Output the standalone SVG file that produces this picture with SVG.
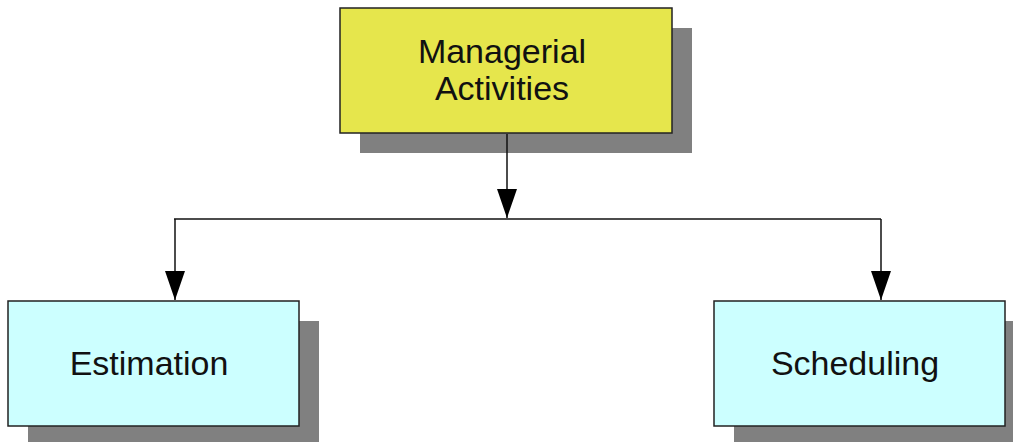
<svg xmlns="http://www.w3.org/2000/svg" width="1013" height="442" viewBox="0 0 1013 442">
  <style>
    .shadow { fill: #808080; }
    .box { stroke: #222; stroke-width: 1.5; }
    .top { fill: #E6E64C; }
    .leaf { fill: #CCFFFF; }
    .label { font-family: "Liberation Sans", Arial, sans-serif; font-size: 34px; fill: #111; text-anchor: middle; }
    .wire { fill: none; stroke: #111; stroke-width: 1.5; }
  </style>
  <defs>
    <marker id="arrow" markerWidth="29" markerHeight="20" refX="29" refY="10" orient="auto" markerUnits="userSpaceOnUse" viewBox="0 0 29 20">
      <path d="M0,0 L29,10 L0,20 Z" fill="#000"/>
    </marker>
  </defs>
  <rect width="1013" height="442" fill="#fff"/>

  <g id="managerial-activities">
    <rect class="shadow" x="360" y="28" width="332" height="125"/>
    <rect class="box top" x="340" y="8" width="332" height="125"/>
    <text class="label" x="502" y="63">Managerial</text>
    <text class="label" x="502" y="100">Activities</text>
  </g>

  <g id="estimation">
    <rect class="shadow" x="28" y="321" width="291" height="125"/>
    <rect class="box leaf" x="8" y="301" width="291" height="125"/>
    <text class="label" x="149" y="375">Estimation</text>
  </g>

  <g id="scheduling">
    <rect class="shadow" x="734" y="321" width="291" height="125"/>
    <rect class="box leaf" x="714" y="301" width="291" height="125"/>
    <text class="label" x="855" y="375">Scheduling</text>
  </g>

  <g id="connectors">
    <path class="wire" d="M507,134 V218" marker-end="url(#arrow)"/>
    <path class="wire" d="M174,219 H881"/>
    <path class="wire" d="M175,219 V300" marker-end="url(#arrow)"/>
    <path class="wire" d="M881,219 V300" marker-end="url(#arrow)"/>
  </g>
</svg>
